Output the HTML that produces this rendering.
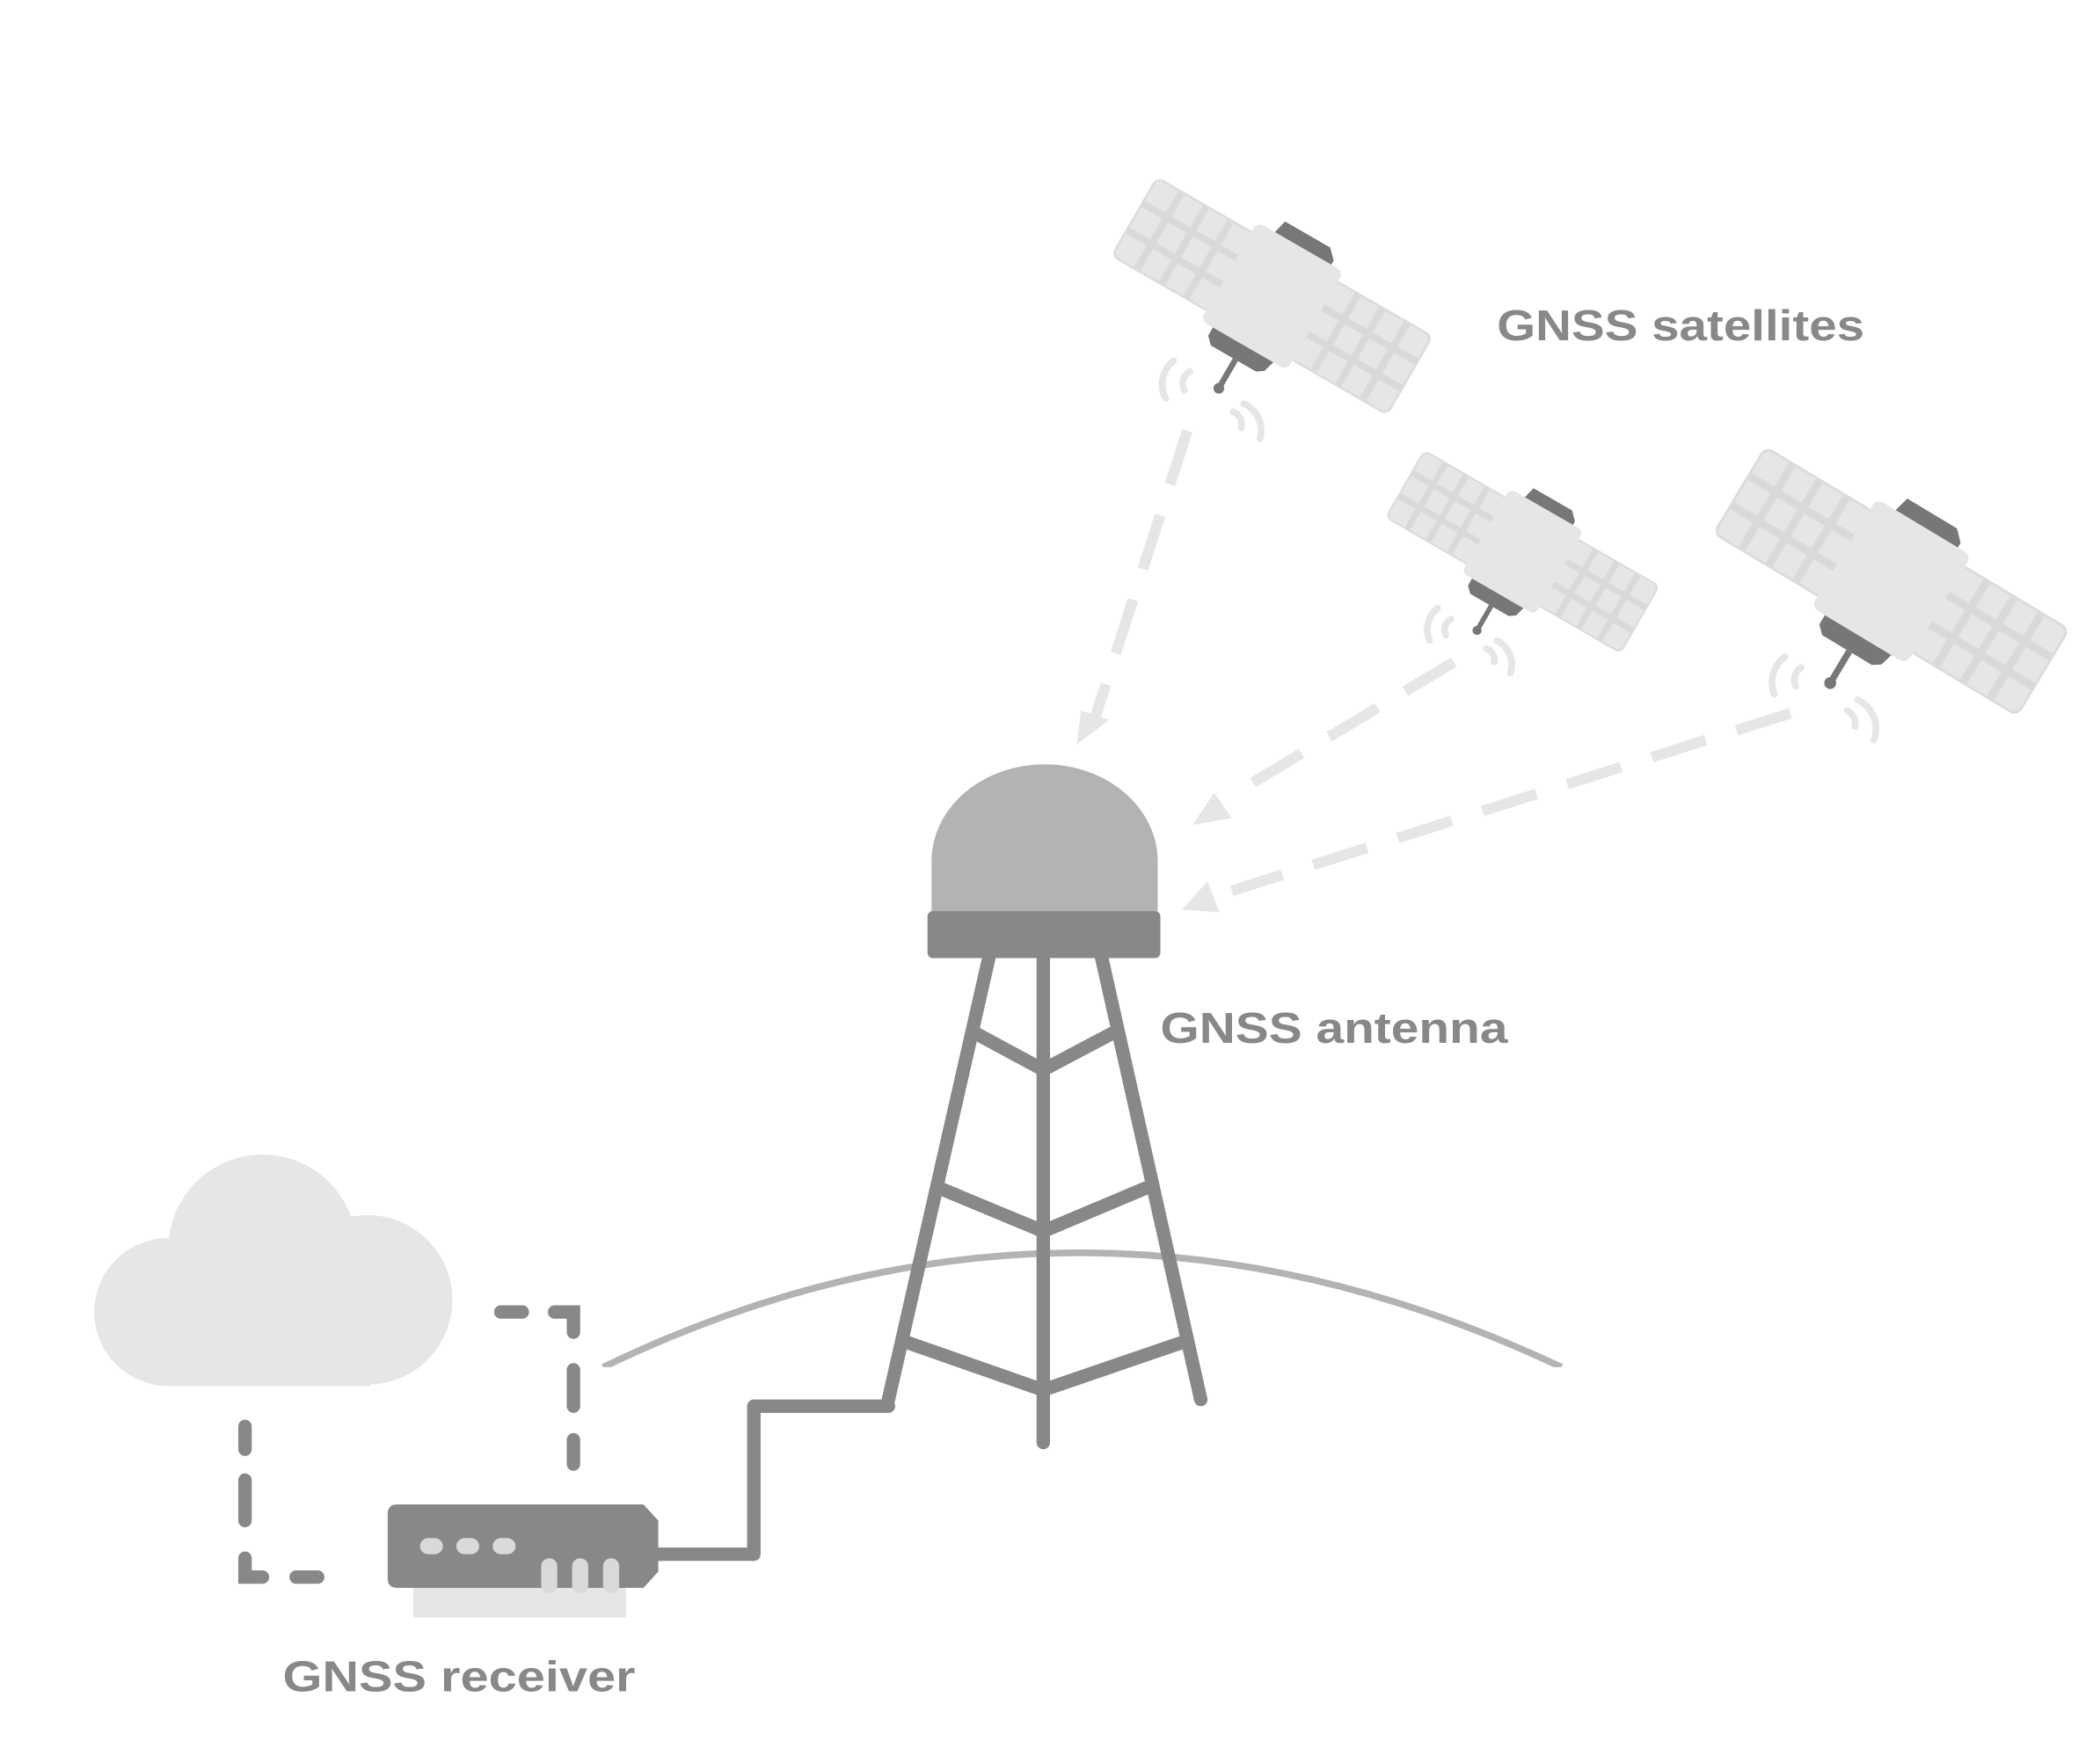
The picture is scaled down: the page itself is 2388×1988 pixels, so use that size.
<!DOCTYPE html>
<html><head><meta charset="utf-8"><style>
html,body{margin:0;padding:0;background:#fff;}
svg{display:block;}
text{font-family:"Liberation Sans",sans-serif;font-weight:bold;fill:#888;font-size:32px;}
</style></head><body>
<svg width="2388" height="1988" viewBox="0 0 1560 1299" preserveAspectRatio="none" xmlns="http://www.w3.org/2000/svg">
<defs>
<g id="sat">
  <g>
    <rect x="-134" y="-38" width="96" height="76" rx="6" fill="#e6e6e6"/>
    <rect x="38" y="-38" width="96" height="76" rx="6" fill="#e6e6e6"/>
    <g stroke="#d9d9d9" stroke-width="6">
      <line x1="-134" y1="-13" x2="-38" y2="-13"/><line x1="-134" y1="13" x2="-38" y2="13"/>
      <line x1="-110" y1="-38" x2="-110" y2="38"/><line x1="-86" y1="-38" x2="-86" y2="38"/><line x1="-62" y1="-38" x2="-62" y2="38"/>
      <line x1="38" y1="-13" x2="134" y2="-13"/><line x1="38" y1="13" x2="134" y2="13"/>
      <line x1="62" y1="-38" x2="62" y2="38"/><line x1="86" y1="-38" x2="86" y2="38"/><line x1="110" y1="-38" x2="110" y2="38"/>
    </g>
    <rect x="-134" y="-38" width="96" height="76" rx="6" fill="none" stroke="#dcdcdc" stroke-width="2"/>
    <rect x="38" y="-38" width="96" height="76" rx="6" fill="none" stroke="#dcdcdc" stroke-width="2"/>
    <polygon points="-26,-44 -22,-60 22,-60 30,-52 30,-44" fill="#777"/>
    <polygon points="-30,44 30,44 26,58 20,62 -24,62 -30,56" fill="#777"/>
    <rect x="-42" y="-48" width="84" height="96" rx="6" fill="#e6e6e6"/>
    <line x1="0" y1="62" x2="0" y2="88" stroke="#777" stroke-width="5"/>
    <circle cx="0" cy="90" r="4.5" fill="#777"/>
  </g>
</g>
</defs>

<g stroke="#e6e6e6" stroke-width="8" stroke-dasharray="42,24" fill="none">
  <line x1="882" y1="320" x2="812" y2="538"/>
  <line x1="1080" y1="492" x2="925" y2="585"/>
  <line x1="1330" y1="530" x2="915" y2="662"/>
</g>
<g fill="#e6e6e6">
  <polygon points="800,553 803,528 824,535"/>
  <polygon points="886,613 902,589 915,608"/>
  <polygon points="878,676 897,655 906,678"/>
</g>

<g transform="translate(945,220) rotate(30) scale(0.88)"><use href="#sat"/></g>
<g transform="translate(1131,410) rotate(30) scale(0.75)"><use href="#sat"/></g>
<g transform="translate(1405,432) rotate(31) scale(0.98)"><use href="#sat"/></g>

<g stroke="#e6e6e6" stroke-width="5" fill="none" stroke-linecap="round">
  <path d="M872,268 A22,22 0 0 0 866,296"/><path d="M884,276 A10,10 0 0 0 880,290"/>
  <path d="M924,300 A22,22 0 0 1 936,326"/><path d="M916,306 A10,10 0 0 1 922,318"/>
  <path d="M1068,452 A20,20 0 0 0 1062,476"/><path d="M1078,460 A9,9 0 0 0 1074,472"/>
  <path d="M1112,476 A20,20 0 0 1 1122,500"/><path d="M1104,482 A9,9 0 0 1 1110,492"/>
  <path d="M1326,488 A24,24 0 0 0 1318,516"/><path d="M1338,496 A11,11 0 0 0 1334,510"/>
  <path d="M1380,520 A24,24 0 0 1 1392,550"/><path d="M1372,528 A11,11 0 0 1 1378,540"/>
</g>

<path d="M448,1016 Q800,846 1160,1016" stroke="#b3b3b3" stroke-width="5" fill="none"/>
<rect x="440" y="1016" width="730" height="20" fill="#fff"/>

<g stroke="#888" stroke-width="10" stroke-linecap="round" fill="none" stroke-linejoin="round">
  <line x1="735" y1="710" x2="660" y2="1040"/>
  <line x1="818" y1="710" x2="892" y2="1040"/>
  <line x1="775" y1="710" x2="775" y2="1072"/>
  <polyline points="725,768 775,795 826,768"/>
  <polyline points="698,883 775,915 851,883"/>
  <polyline points="675,998 775,1033 877,998"/>
  <polyline points="660,1045 560,1045 560,1155 485,1155"/>
</g>
<path d="M692,677 L692,640 A84,72 0 0 1 860,640 L860,677 Z" fill="#b3b3b3"/>
<rect x="689" y="677" width="173" height="35" rx="4" fill="#888"/>

<g fill="#e6e6e6">
  <circle cx="195" cy="928" r="70"/>
  <circle cx="125" cy="975" r="55"/>
  <circle cx="273" cy="966" r="63"/>
  <rect x="125" y="960" width="150" height="70"/>
</g>

<g stroke="#888" stroke-width="10" stroke-linecap="round" fill="none">
  <line x1="182" y1="1060" x2="182" y2="1077"/>
  <line x1="182" y1="1100" x2="182" y2="1130"/>
  <polyline points="182,1158 182,1172 195,1172"/>
  <line x1="220" y1="1172" x2="236" y2="1172"/>
  <line x1="372" y1="975" x2="388" y2="975"/>
  <polyline points="412,975 426,975 426,990"/>
  <line x1="426" y1="1018" x2="426" y2="1045"/>
  <line x1="426" y1="1070" x2="426" y2="1088"/>
</g>

<rect x="307" y="1176" width="158" height="26" fill="#e6e6e6"/>
<path d="M295,1118 L478,1118 L489,1130 L489,1168 L478,1180 L295,1180 Q288,1180 288,1173 L288,1125 Q288,1118 295,1118 Z" fill="#888"/>
<g fill="#d9d9d9">
  <rect x="312" y="1143" width="17" height="12" rx="6"/>
  <rect x="339" y="1143" width="17" height="12" rx="6"/>
  <rect x="366" y="1143" width="17" height="12" rx="6"/>
  <rect x="402" y="1158" width="12" height="26" rx="6"/>
  <rect x="425" y="1158" width="12" height="26" rx="6"/>
  <rect x="448" y="1158" width="12" height="26" rx="6"/>
</g>

<text x="1112" y="253" textLength="273" lengthAdjust="spacingAndGlyphs">GNSS satellites</text>
<text x="862" y="775" textLength="258" lengthAdjust="spacingAndGlyphs">GNSS antenna</text>
<text x="210" y="1257" textLength="262" lengthAdjust="spacingAndGlyphs">GNSS receiver</text>
</svg>
</body></html>
